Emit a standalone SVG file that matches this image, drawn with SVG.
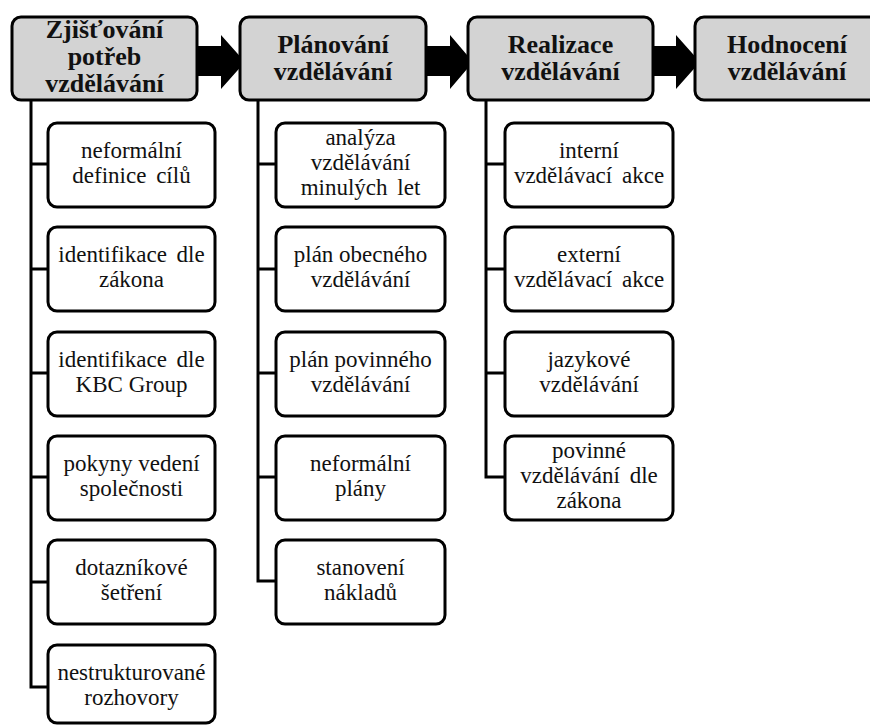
<svg xmlns="http://www.w3.org/2000/svg" width="870" height="725" viewBox="0 0 870 725">
<style>
.top{fill:#d3d3d3;stroke:#000;stroke-width:3}
.child{fill:#fff;stroke:#000;stroke-width:3}
.tt{font-family:'Liberation Serif','Times New Roman',serif;font-weight:bold;font-size:26px;text-anchor:middle;fill:#111}
.ct{font-family:'Liberation Serif','Times New Roman',serif;font-size:23px;text-anchor:middle;fill:#111}
.ln{fill:none;stroke:#000;stroke-width:3}
.arr{fill:#000}
.ws{word-spacing:4px}
</style>
<rect width="870" height="725" fill="#fff"/>
<g id="connectors">
<path class="arr" d="M196,46 H221 V35 L245,62 L221,89 V76 H196 Z"/>
<path class="arr" d="M425,46 H450 V35 L473,62 L450,89 V76 H425 Z"/>
<path class="arr" d="M652,46 H676 V35 L700,62 L676,89 V76 H652 Z"/>
<path class="ln" d="M31,100 V687 H48 M31,164 H48 M31,269 H48 M31,373 H48 M31,477 H48 M31,582 H48"/>
<path class="ln" d="M258,100 V581 H276 M258,164 H276 M258,269 H276 M258,373 H276 M258,477 H276"/>
<path class="ln" d="M486,100 V477 H505 M486,164 H505 M486,269 H505 M486,373 H505"/>
</g>
<g id="n1"><rect class="top" x="12" y="17" width="185" height="83" rx="9"/>
<text class="tt" x="104.5" y="38">Zjišťování</text><text class="tt" x="104.5" y="65">potřeb</text><text class="tt" x="104.5" y="92">vzdělávání</text></g>
<g id="n2"><rect class="top" x="240" y="17" width="186" height="83" rx="9"/>
<text class="tt" x="333" y="53">Plánování</text><text class="tt" x="333" y="80">vzdělávání</text></g>
<g id="n3"><rect class="top" x="468" y="17" width="185" height="83" rx="9"/>
<text class="tt" x="560.5" y="53">Realizace</text><text class="tt" x="560.5" y="80">vzdělávání</text></g>
<g id="n4"><rect class="top" x="695" y="17" width="190" height="83" rx="9"/>
<text class="tt" x="787" y="53">Hodnocení</text><text class="tt" x="787" y="80">vzdělávání</text></g>

<g id="c1a"><rect class="child" x="48" y="123" width="167" height="84" rx="9"/>
<text class="ct" x="131.5" y="158">neformální</text><text class="ct ws" x="131.5" y="183">definice cílů</text></g>
<g id="c1b"><rect class="child" x="48" y="227" width="167" height="84" rx="9"/>
<text class="ct ws" x="131.5" y="262">identifikace dle</text><text class="ct" x="131.5" y="287">zákona</text></g>
<g id="c1c"><rect class="child" x="48" y="332" width="167" height="84" rx="9"/>
<text class="ct ws" x="131.5" y="367">identifikace dle</text><text class="ct" x="131.5" y="392">KBC Group</text></g>
<g id="c1d"><rect class="child" x="48" y="436" width="167" height="84" rx="9"/>
<text class="ct" x="131.5" y="471">pokyny vedení</text><text class="ct" x="131.5" y="496">společnosti</text></g>
<g id="c1e"><rect class="child" x="48" y="540" width="167" height="84" rx="9"/>
<text class="ct" x="131.5" y="575">dotazníkové</text><text class="ct" x="131.5" y="600">šetření</text></g>
<g id="c1f"><rect class="child" x="48" y="645" width="167" height="78" rx="9"/>
<text class="ct" x="131.5" y="680">nestrukturované</text><text class="ct" x="131.5" y="705">rozhovory</text></g>

<g id="c2a"><rect class="child" x="276" y="123" width="169" height="84" rx="9"/>
<text class="ct" x="360.5" y="145">analýza</text><text class="ct" x="360.5" y="170">vzdělávání</text><text class="ct ws" x="360.5" y="195">minulých let</text></g>
<g id="c2b"><rect class="child" x="276" y="227" width="169" height="84" rx="9"/>
<text class="ct" x="360.5" y="262">plán obecného</text><text class="ct" x="360.5" y="287">vzdělávání</text></g>
<g id="c2c"><rect class="child" x="276" y="332" width="169" height="84" rx="9"/>
<text class="ct" x="360.5" y="367">plán povinného</text><text class="ct" x="360.5" y="392">vzdělávání</text></g>
<g id="c2d"><rect class="child" x="276" y="436" width="169" height="84" rx="9"/>
<text class="ct" x="360.5" y="471">neformální</text><text class="ct" x="360.5" y="496">plány</text></g>
<g id="c2e"><rect class="child" x="276" y="540" width="169" height="84" rx="9"/>
<text class="ct" x="360.5" y="575">stanovení</text><text class="ct" x="360.5" y="600">nákladů</text></g>

<g id="c3a"><rect class="child" x="505" y="123" width="168" height="84" rx="9"/>
<text class="ct" x="589" y="158">interní</text><text class="ct ws" x="589" y="183">vzdělávací akce</text></g>
<g id="c3b"><rect class="child" x="505" y="227" width="168" height="84" rx="9"/>
<text class="ct" x="589" y="262">externí</text><text class="ct ws" x="589" y="287">vzdělávací akce</text></g>
<g id="c3c"><rect class="child" x="505" y="332" width="168" height="84" rx="9"/>
<text class="ct" x="589" y="367">jazykové</text><text class="ct" x="589" y="392">vzdělávání</text></g>
<g id="c3d"><rect class="child" x="505" y="436" width="168" height="84" rx="9"/>
<text class="ct" x="589" y="458">povinné</text><text class="ct ws" x="589" y="483">vzdělávání dle</text><text class="ct" x="589" y="508">zákona</text></g>
</svg>
